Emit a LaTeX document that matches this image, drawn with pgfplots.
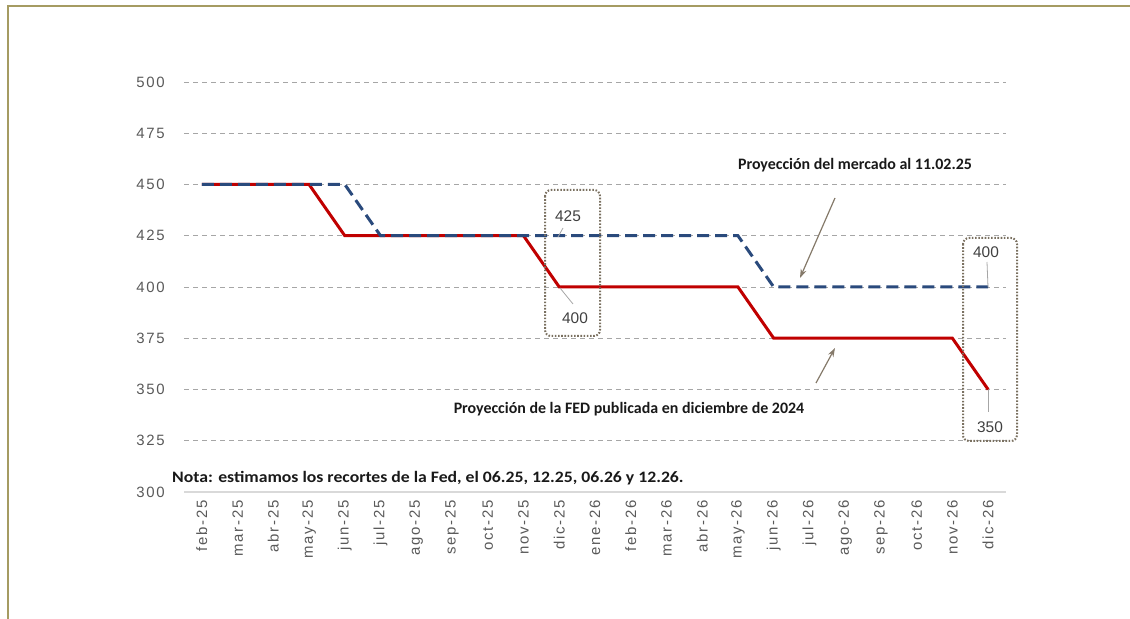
\documentclass[border=0pt]{standalone}
\usepackage{pgfplots}
\pgfplotsset{compat=1.18}
\usepackage{fontspec}
\setmainfont{Liberation Sans}
\newfontfamily\tickfont[LetterSpace=12]{Liberation Sans}
\newfontfamily\calibri{Carlito}
\usetikzlibrary{arrows.meta}
\definecolor{fedred}{HTML}{C00000}
\definecolor{mktblue}{HTML}{2A4A7C}
\definecolor{gridgray}{HTML}{A6A6A6}
\definecolor{tickgray}{HTML}{595959}
\definecolor{framecol}{HTML}{A59B62}
\definecolor{boxcol}{HTML}{7A7060}
\definecolor{arrcol}{HTML}{857A6A}
\begin{document}
\begin{tikzpicture}
\path[use as bounding box] (0,0) rectangle (1130bp,619bp);
\begin{axis}[
  at={(184bp,127bp)}, anchor=south west,
  scale only axis, width=822bp, height=410bp,
  xmin=-0.5, xmax=22.5, ymin=300, ymax=500,
  axis x line*=bottom, axis y line*=left,
  y axis line style={draw=none},
  x axis line style={draw=gray!30, line width=1.5bp},
  major tick length=0pt,
  ytick={300,325,...,500},
  ymajorgrids,
  grid style={draw=gridgray, line width=0.9bp, dash pattern=on 5bp off 4bp},
  xtick={0,...,22},
  xticklabels={feb-25,mar-25,abr-25,may-25,jun-25,jul-25,ago-25,sep-25,oct-25,nov-25,dic-25,ene-26,feb-26,mar-26,abr-26,may-26,jun-26,jul-26,ago-26,sep-26,oct-26,nov-26,dic-26},
  xticklabel style={rotate=90, anchor=east, inner sep=0pt, font=\tickfont\fontsize{15}{15}\selectfont, text=tickgray},
  xticklabel shift=8bp,
  yticklabel style={anchor=east, inner sep=0pt, xshift=-19bp, font=\tickfont\fontsize{15}{15}\selectfont, text=tickgray},
  /pgf/number format/assume math mode=true,
  clip=false,
]
\addplot[fedred, line width=3bp] coordinates {
(0,450) (1,450) (2,450) (3,450) (4,425) (5,425) (6,425) (7,425) (8,425) (9,425) (10,400) (11,400) (12,400) (13,400) (14,400) (15,400) (16,375) (17,375) (18,375) (19,375) (20,375) (21,375) (22,350)};
\addplot[mktblue, line width=3bp, dash pattern=on 12bp off 6bp] coordinates {
(0,450) (1,450) (2,450) (3,450) (4,450) (5,425) (6,425) (7,425) (8,425) (9,425) (10,425) (11,425) (12,425) (13,425) (14,425) (15,425) (16,400) (17,400) (18,400) (19,400) (20,400) (21,400) (22,400)};
\end{axis}
\begin{scope}[shift={(0,619bp)}, x=1bp, y=-1bp]
  % frame
  \draw[framecol, line width=2bp] (1130,6) -- (8,6) -- (8,619);
  % boxes
  \draw[boxcol, line width=2bp, dash pattern=on 1.6bp off 1.6bp, rounded corners=6bp] (545,190) rectangle (600,336);
  \draw[boxcol, line width=2bp, dash pattern=on 1.6bp off 1.6bp, rounded corners=6bp] (963,238) rectangle (1017,441);
  % value labels
  \node[font=\fontsize{15.5}{15}\selectfont, text=black!75] at (568,216) {425};
  \draw[gray!70, line width=0.8bp] (563,228) -- (558,237);
  \node[font=\fontsize{15.5}{15}\selectfont, text=black!75] at (575,318) {400};
  \draw[gray!70, line width=0.8bp] (573,304) -- (560,288);
  \node[font=\fontsize{15.5}{15}\selectfont, text=black!75] at (986,252) {400};
  \draw[gray!70, line width=0.8bp] (987,262) -- (988,287);
  \node[font=\fontsize{15.5}{15}\selectfont, text=black!75] at (990,427) {350};
  \draw[gray!70, line width=0.8bp] (988,412) -- (988,390);
  % annotations
  \node[font=\calibri\bfseries\fontsize{16}{16}\selectfont, text=black!90] at (855,165) {Proyección del mercado al 11.02.25};
  \draw[arrcol, line width=1.2bp, -{Stealth[length=9bp, width=6bp]}] (835,198) -- (800,278);
  \node[font=\calibri\bfseries\fontsize{16}{16}\selectfont, text=black!90] at (629,409) {Proyección de la FED publicada en diciembre de 2024};
  \draw[arrcol, line width=1.2bp, -{Stealth[length=9bp, width=6bp]}] (816,383) -- (835,348);
  \node[font=\calibri\bfseries\fontsize{16}{16}\selectfont, text=black!90, anchor=west, inner sep=0pt, xscale=1.11] at (172,478) {Nota: estimamos los recortes de la Fed, el 06.25, 12.25, 06.26 y 12.26.};
\end{scope}
\end{tikzpicture}
\end{document}
